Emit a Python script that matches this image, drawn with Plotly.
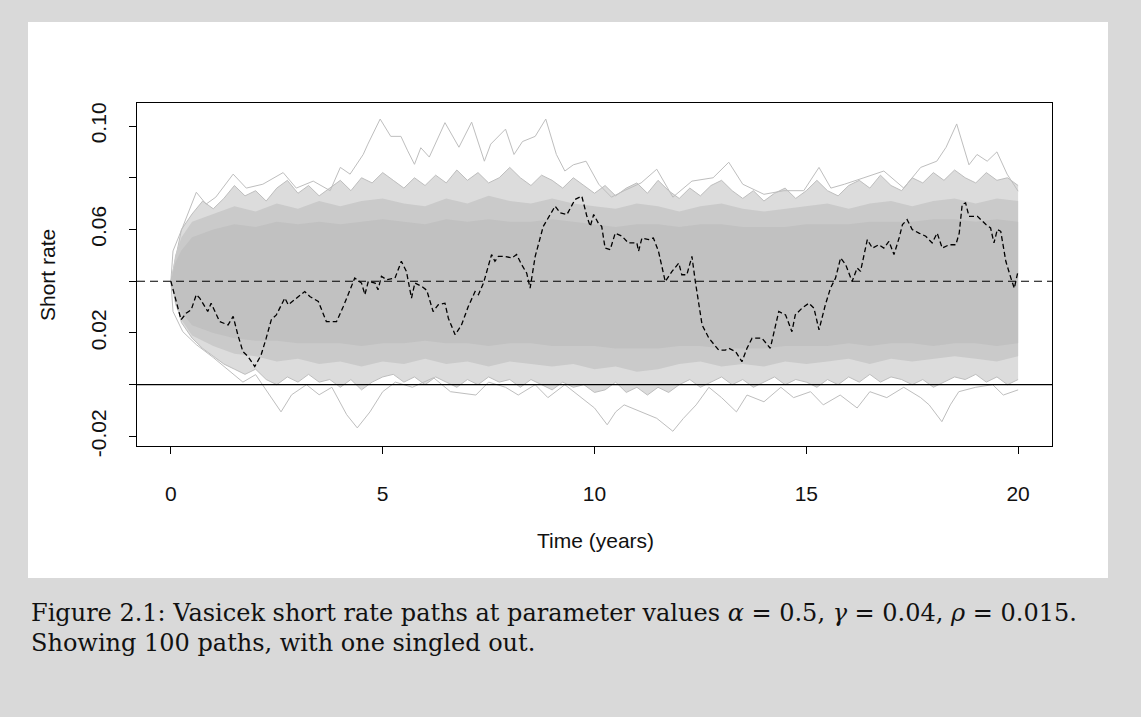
import plotly.graph_objects as go

# ---------------- data ----------------
# highlighted (black dashed) path
path_t = [0, 0.24, 0.36, 0.48, 0.6, 0.68, 0.87, 0.95, 1.15, 1.35, 1.47, 1.58, 1.7, 1.82, 1.98,
          2.13, 2.25, 2.37, 2.49, 2.61, 2.69, 2.77, 2.96, 3.16, 3.28, 3.48, 3.67, 3.91, 4.07,
          4.18, 4.34, 4.5, 4.58, 4.66, 4.82, 4.89, 4.97, 5.09, 5.29, 5.44, 5.56, 5.68, 5.76,
          5.92, 6.04, 6.19, 6.31, 6.47, 6.55, 6.71, 6.86, 7.02, 7.18, 7.26, 7.38, 7.57, 7.65,
          7.73, 7.89, 8.05, 8.16, 8.28, 8.4, 8.48, 8.6, 8.79, 8.91, 9.07, 9.19, 9.35, 9.54,
          9.7, 9.82, 9.9, 9.98, 10.09, 10.17, 10.25, 10.37, 10.49, 10.65, 10.8, 11.0, 11.04,
          11.12, 11.28, 11.39, 11.51, 11.67, 11.83, 11.99, 12.06, 12.18, 12.3, 12.38, 12.54,
          12.7, 12.93, 13.09, 13.17, 13.33, 13.48, 13.6, 13.72, 13.95, 14.15, 14.35, 14.51,
          14.66, 14.74, 14.9, 15.06, 15.18, 15.3, 15.45, 15.57, 15.69, 15.81, 15.93, 16.08,
          16.2, 16.28, 16.44, 16.56, 16.71, 16.83, 16.95, 17.07, 17.19, 17.27, 17.38, 17.5,
          17.66, 17.82, 17.97, 18.09, 18.21, 18.37, 18.53, 18.61, 18.68, 18.76, 18.84, 19.04,
          19.24, 19.35, 19.43, 19.51, 19.59, 19.71, 19.83, 19.91, 20.0]
path_r = [0.040, 0.0251, 0.0276, 0.0290, 0.0348, 0.0335, 0.0283, 0.0315, 0.0244, 0.0231, 0.0264,
          0.0193, 0.0128, 0.0109, 0.0070, 0.0115, 0.0180, 0.0251, 0.0270, 0.0309, 0.0335,
          0.0309, 0.0335, 0.0360, 0.0341, 0.0322, 0.0244, 0.0244, 0.0302, 0.0348, 0.0412,
          0.0393, 0.0348, 0.0399, 0.0393, 0.0367, 0.0419, 0.0406, 0.0412, 0.0477, 0.0438,
          0.0335, 0.0393, 0.0380, 0.0365, 0.0283, 0.0309, 0.0315, 0.0257, 0.0193, 0.0231,
          0.0302, 0.0360, 0.0348, 0.0393, 0.0503, 0.0477, 0.0496, 0.0496, 0.0490, 0.0503,
          0.0464, 0.0431, 0.0373, 0.0496, 0.0612, 0.0645, 0.0690, 0.0664, 0.0658, 0.0716,
          0.0729, 0.0651, 0.0612, 0.0658, 0.0625, 0.0612, 0.0528, 0.0522, 0.0586, 0.0574,
          0.0548, 0.0548, 0.0516, 0.0567, 0.0561, 0.0567, 0.0516, 0.0399, 0.0438, 0.0470,
          0.0425, 0.0425, 0.0496, 0.0399, 0.0231, 0.0180, 0.0134, 0.0134, 0.0141, 0.0128,
          0.0089, 0.0141, 0.0180, 0.0180, 0.0141, 0.0283, 0.0270, 0.0205, 0.0270, 0.0296,
          0.0315, 0.0296, 0.0212, 0.0309, 0.0373, 0.0412, 0.0490, 0.0464, 0.0399, 0.0451,
          0.0438, 0.0561, 0.0528, 0.0541, 0.0528, 0.0554, 0.0503, 0.0567, 0.0619, 0.0638,
          0.0600, 0.0586, 0.0574, 0.0548, 0.0586, 0.0528, 0.0541, 0.0541, 0.0586, 0.0697,
          0.0703, 0.0651, 0.0651, 0.0619, 0.0606, 0.0548, 0.0600, 0.0593, 0.0477, 0.0412,
          0.0373, 0.0440]

# highest grey values reached over time (upper outline of the 100 paths)
top_t = [0, 0.05, 0.28, 0.6, 0.83, 1.06, 1.47, 1.78, 2.17, 2.65, 2.96, 3.36, 3.76, 4.0, 4.23,
         4.54, 4.65, 4.94, 5.19, 5.43, 5.59, 5.75, 5.9, 6.1, 6.47, 6.8, 7.1, 7.4, 7.55, 7.9,
         8.1, 8.3, 8.6, 8.85, 9.1, 9.3, 9.5, 9.8, 10.1, 10.4, 10.7, 11.1, 11.47, 11.85, 12.3,
         12.8, 13.17, 13.5, 14.0, 14.47, 14.94, 15.3, 15.58, 15.9, 16.36, 16.83, 17.3, 17.7,
         18.08, 18.3, 18.55, 18.84, 19.03, 19.27, 19.5, 19.74, 20.0]
top_r = [0.040, 0.0517, 0.061, 0.0744, 0.0698, 0.0725, 0.0814, 0.076, 0.0775, 0.082, 0.076,
         0.0787, 0.075, 0.084, 0.0814, 0.089, 0.093, 0.1027, 0.096, 0.096, 0.0904, 0.0852,
         0.0916, 0.088, 0.1013, 0.0918, 0.1015, 0.0864, 0.093, 0.0988, 0.089, 0.094, 0.096,
         0.1027, 0.089, 0.0826, 0.085, 0.0864, 0.0775, 0.0725, 0.075, 0.078, 0.0833, 0.0725,
         0.0787, 0.080, 0.086, 0.0775, 0.0736, 0.075, 0.075, 0.084, 0.076, 0.0775, 0.080,
         0.0826, 0.076, 0.084, 0.0864, 0.0918, 0.1008, 0.085, 0.089, 0.0864, 0.090, 0.0814,
         0.0748]

# lowest grey values reached over time (lower outline)
bot_t = [0, 0.05, 0.28, 0.6, 1.0, 1.4, 1.7, 2.0, 2.36, 2.6, 2.85, 3.2, 3.5, 3.8, 4.15, 4.4,
         4.7, 5.0, 5.3, 5.7, 6.2, 6.6, 7.2, 7.5, 7.9, 8.2, 8.6, 8.9, 9.3, 9.7, 10.0, 10.3,
         10.5, 10.7, 11.1, 11.47, 11.85, 12.1, 12.4, 12.7, 13.0, 13.35, 13.6, 14.0, 14.4,
         14.7, 15.1, 15.4, 15.8, 16.2, 16.5, 16.9, 17.3, 17.7, 17.9, 18.2, 18.4, 18.6, 19.0,
         19.4, 19.65, 20.0]
bot_r = [0.040, 0.0283, 0.0205, 0.0155, 0.0105, 0.005, 0.001, 0.0039, -0.005, -0.0105,
         -0.0039, 0.0, -0.0039, -0.001, -0.0116, -0.0167, -0.0105, -0.0027, 0.001, -0.001,
         0.0027, -0.0027, -0.004, 0.001, -0.001, -0.004, 0.0, -0.005, 0.0, -0.005, -0.009,
         -0.0155, -0.0105, -0.0078, -0.0105, -0.013, -0.018, -0.013, -0.0078, -0.001,
         -0.005, -0.0105, -0.004, -0.0066, -0.001, -0.005, -0.0027, -0.0078, -0.004, -0.009,
         -0.0027, -0.005, -0.001, -0.005, -0.0078, -0.0143, -0.0078, -0.0027, -0.001, 0.0,
         -0.004, -0.002]

# upper / lower edge of the region where several grey paths overlap (quarter-year reads)
edge_t = [i * 0.25 for i in range(81)]
outer_hi = [0.040, 0.060, 0.066, 0.071, 0.068, 0.072, 0.077, 0.073, 0.075, 0.071, 0.076, 0.079,
            0.074, 0.077, 0.073, 0.076, 0.079, 0.075, 0.080, 0.078, 0.082, 0.079, 0.076, 0.080,
            0.077, 0.081, 0.078, 0.083, 0.079, 0.082, 0.078, 0.080, 0.084, 0.080, 0.077, 0.081,
            0.079, 0.076, 0.080, 0.077, 0.074, 0.077, 0.073, 0.076, 0.078, 0.074, 0.079, 0.075,
            0.072, 0.076, 0.073, 0.077, 0.079, 0.075, 0.072, 0.075, 0.071, 0.074, 0.076, 0.072,
            0.075, 0.079, 0.075, 0.073, 0.077, 0.079, 0.076, 0.081, 0.077, 0.075, 0.080, 0.078,
            0.082, 0.079, 0.083, 0.080, 0.078, 0.082, 0.079, 0.080, 0.077]
outer_lo = [0.040, 0.024, 0.018, 0.014, 0.011, 0.008, 0.006, 0.004, 0.006, 0.002, 0.000, 0.003,
            0.001, 0.004, 0.001, 0.002, -0.001, 0.002, -0.002, 0.001, 0.003, 0.004, 0.001,
            0.003, 0.000, 0.003, 0.001, -0.001, 0.002, 0.000, 0.003, 0.001, 0.002, -0.001,
            0.002, 0.000, -0.002, 0.001, -0.001, 0.000, -0.003, -0.002, 0.001, -0.003, -0.001,
            -0.004, -0.001, -0.003, 0.000, 0.002, -0.001, 0.001, 0.003, 0.000, 0.002, -0.001,
            0.001, 0.003, 0.000, 0.002, 0.001, -0.001, 0.002, 0.000, 0.003, 0.001, 0.004,
            0.001, 0.003, 0.002, 0.000, 0.002, -0.001, 0.001, 0.003, 0.002, 0.004, 0.001,
            0.003, 0.000, 0.002]

# dense and solid parts of the grey bundle (half-year reads)
band_t = [0, 0.1, 0.25, 0.5, 1, 1.5, 2, 2.5, 3, 3.5, 4, 4.5, 5, 5.5, 6, 6.5, 7, 7.5, 8, 8.5,
          9, 9.5, 10, 10.5, 11, 11.5, 12, 12.5, 13, 13.5, 14, 14.5, 15, 15.5, 16, 16.5, 17,
          17.5, 18, 18.5, 19, 19.5, 20]
mid_hi = [0.040, 0.050, 0.057, 0.063, 0.066, 0.069, 0.067, 0.070, 0.068, 0.071, 0.069, 0.071,
          0.072, 0.070, 0.069, 0.072, 0.070, 0.073, 0.071, 0.070, 0.072, 0.070, 0.069, 0.068,
          0.070, 0.069, 0.067, 0.069, 0.070, 0.068, 0.067, 0.068, 0.069, 0.070, 0.068, 0.070,
          0.071, 0.069, 0.071, 0.072, 0.070, 0.072, 0.071]
core_hi = [0.040, 0.047, 0.052, 0.057, 0.060, 0.062, 0.061, 0.063, 0.062, 0.063, 0.062, 0.063,
           0.064, 0.063, 0.062, 0.064, 0.063, 0.064, 0.063, 0.063, 0.064, 0.063, 0.062, 0.061,
           0.062, 0.062, 0.061, 0.062, 0.062, 0.061, 0.061, 0.061, 0.062, 0.062, 0.062, 0.063,
           0.063, 0.063, 0.064, 0.064, 0.063, 0.064, 0.063]
core_lo = [0.040, 0.033, 0.028, 0.023, 0.020, 0.018, 0.017, 0.017, 0.016, 0.016, 0.016, 0.015,
           0.016, 0.016, 0.017, 0.016, 0.016, 0.015, 0.016, 0.016, 0.015, 0.015, 0.015, 0.014,
           0.014, 0.014, 0.015, 0.015, 0.014, 0.014, 0.014, 0.015, 0.015, 0.015, 0.016, 0.015,
           0.016, 0.016, 0.015, 0.016, 0.016, 0.015, 0.016]
mid_lo = [0.040, 0.031, 0.025, 0.019, 0.015, 0.012, 0.011, 0.009, 0.010, 0.008, 0.009, 0.007,
          0.009, 0.008, 0.010, 0.008, 0.009, 0.007, 0.009, 0.008, 0.007, 0.008, 0.006, 0.007,
          0.005, 0.006, 0.008, 0.009, 0.007, 0.008, 0.007, 0.009, 0.008, 0.009, 0.010, 0.008,
          0.010, 0.009, 0.010, 0.011, 0.010, 0.009, 0.011]

gamma_level = 0.04
zero_level = 0.0
x_ticks = [0, 5, 10, 15, 20]
y_ticks = [-0.02, 0.0, 0.02, 0.04, 0.06, 0.08, 0.10]
y_tick_text = ["-0.02", "", "0.02", "", "0.06", "", "0.10"]

# ---------------- figure ----------------
W, H = 1141, 717
L, R, T, B = 137, 1141 - 1052, 103, 717 - 446
PW, PH = W - L - R, H - T - B

def px(x):
    return (x - L) / PW

def py(y):
    return (H - B - y) / PH

GREY = "#bebebe"
fig = go.Figure()

def band(xs, hi, lo, color, lw):
    fig.add_trace(go.Scatter(x=xs, y=hi, mode="lines", line=dict(width=lw, color=GREY),
                             hoverinfo="skip", showlegend=False))
    fig.add_trace(go.Scatter(x=xs, y=lo, mode="lines", line=dict(width=lw, color=GREY),
                             fill="tonexty", fillcolor=color, hoverinfo="skip", showlegend=False))

band(edge_t, outer_hi, outer_lo, "#dcdcdc", 1)
band(band_t, mid_hi, mid_lo, "#cacaca", 0)
band(band_t, core_hi, core_lo, "#c1c1c1", 0)

fig.add_trace(go.Scatter(x=top_t, y=top_r, mode="lines", line=dict(width=1, color=GREY),
                         hoverinfo="skip", showlegend=False))
fig.add_trace(go.Scatter(x=bot_t, y=bot_r, mode="lines", line=dict(width=1, color=GREY),
                         hoverinfo="skip", showlegend=False))

fig.add_trace(go.Scatter(x=path_t, y=path_r, mode="lines",
                         line=dict(width=1.3, color="black", dash="5px,3px"),
                         hoverinfo="skip", showlegend=False))

shapes = [
    dict(type="rect", xref="paper", yref="paper", x0=px(28), x1=px(1108), y0=py(578), y1=py(22),
         fillcolor="white", line=dict(width=0), layer="below"),
    dict(type="line", xref="paper", yref="y", x0=0, x1=1, y0=gamma_level, y1=gamma_level,
         line=dict(color="black", width=1.2, dash="8px,5px")),
    dict(type="line", xref="paper", yref="y", x0=0, x1=1, y0=zero_level, y1=zero_level,
         line=dict(color="black", width=1.2)),
]

sans = "Liberation Sans, Arial, sans-serif"
axis_font = dict(family=sans, size=21, color="#111111")
title_font = dict(family=sans, size=21, color="#111111")
cap_font = dict(family="DejaVu Serif, serif", size=24, color="#111111")
annotations = [
    dict(text="Time (years)", xref="paper", yref="paper", x=px(595), y=py(540),
         showarrow=False, font=title_font, xanchor="center", yanchor="middle"),
    dict(text="Short rate", xref="paper", yref="paper", x=px(47), y=py(275), textangle=-90,
         showarrow=False, font=title_font, xanchor="center", yanchor="middle"),
    dict(text="Figure 2.1: Vasicek short rate paths at parameter values <i>α</i> = 0.5, "
              "<i>γ</i> = 0.04, <i>ρ</i> = 0.015.",
         xref="paper", yref="paper", x=px(29), y=py(613), showarrow=False, xanchor="left",
         yanchor="middle", font=cap_font),
    dict(text="Showing 100 paths, with one singled out.",
         xref="paper", yref="paper", x=px(29), y=py(643), showarrow=False, xanchor="left",
         yanchor="middle", font=cap_font),
]

fig.update_layout(
    width=W, height=H,
    margin=dict(l=L, r=R, t=T, b=B, pad=0),
    paper_bgcolor="#d9d9d9", plot_bgcolor="white",
    shapes=shapes, annotations=annotations, showlegend=False,
    xaxis=dict(range=[-0.8, 20.8], tickvals=x_ticks, ticks="outside", ticklen=7,
               tickcolor="black", showline=True, linecolor="black", linewidth=1, mirror=True,
               showgrid=False, zeroline=False, tickfont=axis_font, ticklabelstandoff=22),
    yaxis=dict(range=[-0.0237, 0.1089], tickvals=y_ticks, ticktext=y_tick_text,
               ticks="outside", ticklen=7, tickcolor="black", tickangle=-90,
               showline=True, linecolor="black", linewidth=1, mirror=True,
               showgrid=False, zeroline=False, tickfont=axis_font, ticklabelstandoff=15),
)

fig.write_html("out.html")
